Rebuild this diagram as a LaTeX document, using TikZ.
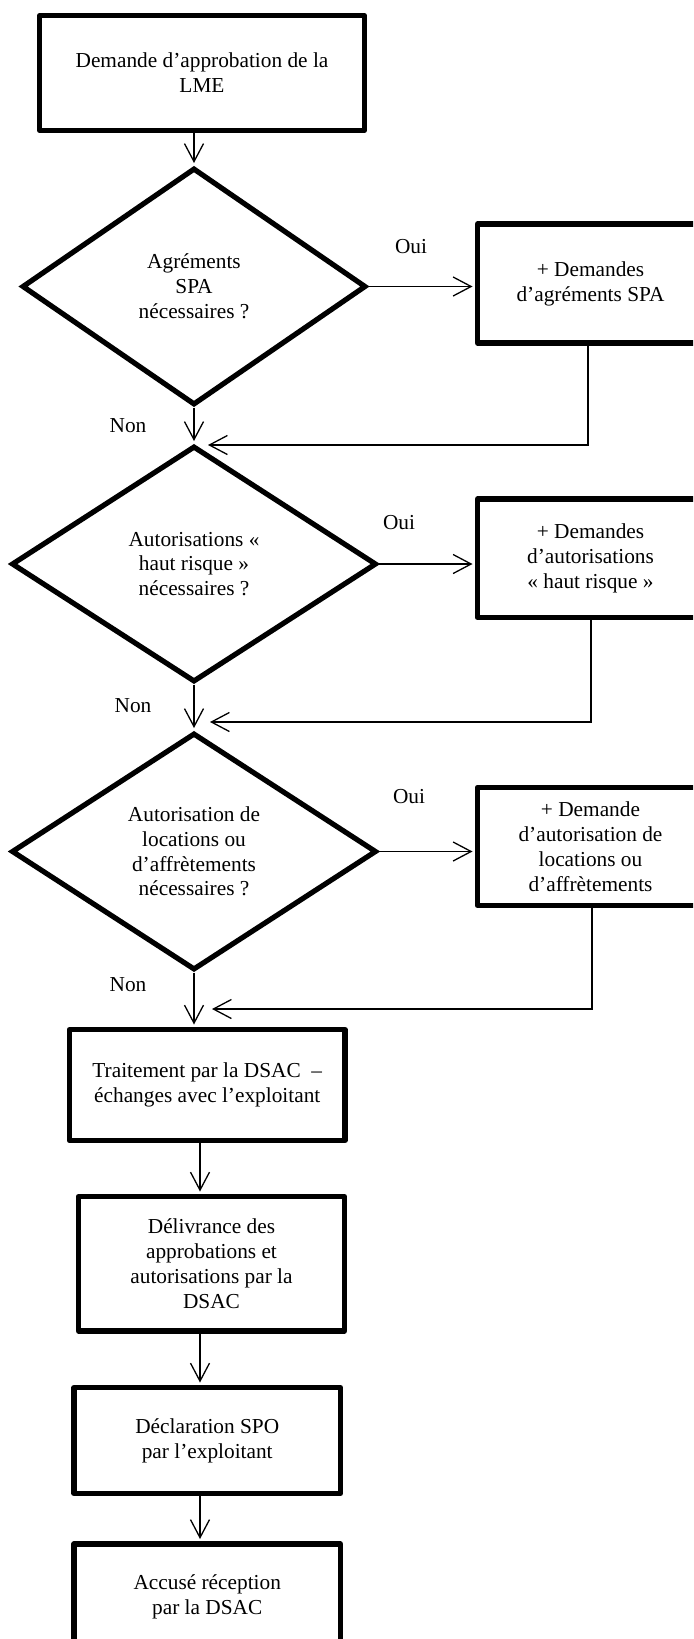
\documentclass[tikz,border=0pt]{standalone}
\usepackage{fontspec}
\setmainfont{Liberation Serif}
\usetikzlibrary{shapes.geometric,arrows.meta}
\begin{document}
\begin{tikzpicture}[x=0.5pt,y=-0.5pt,
  txt/.style={font=\fontsize{10.66pt}{12.4pt}\selectfont, align=center},
  box/.style={txt, draw, line width=2.6pt, line join=round, rectangle, inner sep=0pt},
  dia/.style={txt, draw, line width=2.6pt, diamond, inner sep=0pt, line join=miter},
  arr/.style={line width=0.65pt, -{Straight Barb[length=9pt,width=9.5pt,line width=0.65pt]}, shorten >=1.2pt},
  lbl/.style={txt, inner sep=0pt}
]
\clip (0,0) rectangle (693,1639);

% main column
\node[box, minimum width=162.25pt, minimum height=57.5pt] (b1) at (202,73) {Demande d’approbation de la\\LME};
\node[dia, minimum width=172pt, minimum height=118.5pt] (d1) at (194,286.5) {Agréments\\SPA\\nécessaires ?};
\node[dia, minimum width=182.5pt, minimum height=118pt] (d2) at (194,564) {Autorisations «\\haut risque »\\nécessaires ?};
\node[dia, minimum width=182.5pt, minimum height=118.5pt] (d3) at (194,851.5) {Autorisation de\\locations ou\\d’affrètements\\nécessaires ?};
\node[box, minimum width=137.75pt, minimum height=55.5pt] (b4) at (207.25,1085) {Traitement par la DSAC\ \ –\\échanges avec l’exploitant};
\node[box, minimum width=133pt, minimum height=67.25pt] (b5) at (211.5,1263.75) {Délivrance des\\approbations et\\autorisations par la\\DSAC};
\node[box, minimum width=133.25pt, minimum height=53pt] (b6) at (207.25,1440.5) {Déclaration SPO\\par l’exploitant};
\node[box, minimum width=133.25pt, minimum height=53pt] (b7) at (207.25,1597) {Accusé réception\\par la DSAC};

% right column
\node[box, minimum width=113pt, minimum height=59.5pt] (r1) at (590.5,283.5) {+ Demandes\\d’agréments SPA};
\node[box, minimum width=113pt, minimum height=59.25pt] (r2) at (590.5,558.25) {+ Demandes\\d’autorisations\\«~haut risque~»};
\node[box, minimum width=113pt, minimum height=59pt] (r3) at (590.5,846.5) {+ Demande\\d’autorisation de\\locations ou\\d’affrètements};

% labels
\node[lbl] (oui1) at (411,247) {Oui};
\node[lbl] (oui2) at (399,523) {Oui};
\node[lbl] (oui3) at (409,797) {Oui};
\node[lbl] (non1) at (128,426) {Non};
\node[lbl] (non2) at (133,706) {Non};
\node[lbl] (non3) at (128,985) {Non};

% helper coordinates
\coordinate (cx) at (200,0);
\coordinate (k1) at (588,0);
\coordinate (k2) at (591,0);
\coordinate (k3) at (592,0);
\coordinate (j1) at (208,445);
\coordinate (j2) at (210,722);
\coordinate (j3) at (212,1009);

% connectors
\draw[arr] (d1.north |- b1.south) -- (d1.north);
\draw[arr] (d1.south) -- (d2.north);
\draw[arr] (d2.south) -- (d3.north);
\draw[arr] (d3.south) -- (d3.south |- b4.north);
\draw[arr] (b4.south -| cx) -- (b5.north -| cx);
\draw[arr] (b5.south -| cx) -- (b6.north -| cx);
\draw[arr] (b6.south -| cx) -- (b7.north -| cx);

\draw[arr] (d1.east) -- (d1.east -| r1.west);
\draw[arr] (d2.east) -- (d2.east -| r2.west);
\draw[arr] (d3.east) -- (d3.east -| r3.west);

\draw[arr, shorten >=0pt] (r1.south -| k1) |- (j1);
\draw[arr, shorten >=0pt] (r2.south -| k2) |- (j2);
\draw[arr, shorten >=0pt] (r3.south -| k3) |- (j3);
\end{tikzpicture}
\end{document}
